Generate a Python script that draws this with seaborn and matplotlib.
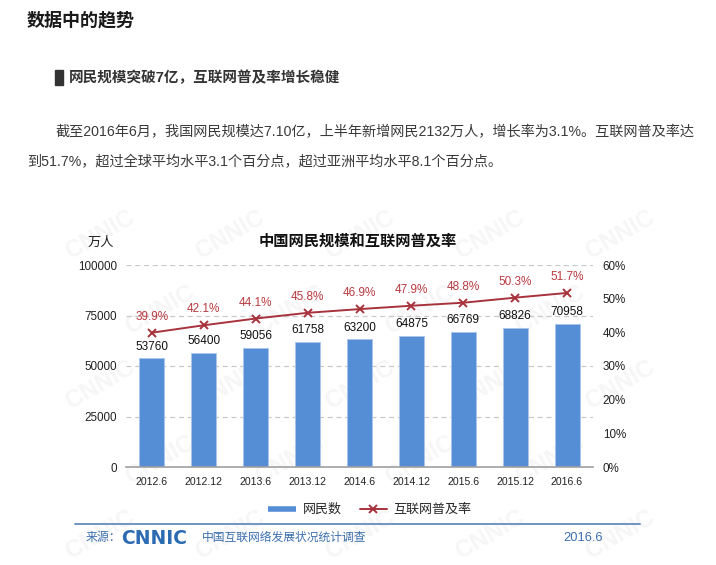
import seaborn as sns
import matplotlib.pyplot as plt
from matplotlib.lines import Line2D
from matplotlib.patches import Rectangle

# 数据
periods = ['2012.6', '2012.12', '2013.6', '2013.12', '2014.6',
           '2014.12', '2015.6', '2015.12', '2016.6']
netizens = [53760, 56400, 59056, 61758, 63200, 64875, 66769, 68826, 70958]
penetration = [39.9, 42.1, 44.1, 45.8, 46.9, 47.9, 48.8, 50.3, 51.7]
left_ticks = [0, 25000, 50000, 75000, 100000]
right_ticks = [0, 10, 20, 30, 40, 50, 60]

BLUE = '#558ED5'
RED_LINE = '#A8323C'
RED_TEXT = '#B83A40'
FOOT_BLUE = '#3D70AE'

sns.set_theme(style="white")
plt.rcParams['font.family'] = ['Liberation Sans', 'Noto Sans CJK SC', 'DejaVu Sans']

W, H = 716, 565
fig = plt.figure(figsize=(W / 100, H / 100), dpi=100, facecolor='white')


def fx(px):
    return px / W


def fy(py):
    return 1 - py / H


# 背景水印（很淡）
for row, yy in enumerate(range(235, 540, 75)):
    for xx in range(100 + (row % 2) * 60, 660, 130):
        fig.text(fx(xx), fy(yy), 'CNNIC', rotation=30, color='#f6f6f6',
                 fontsize=17, weight='bold', ha='center', va='center', zorder=-1)

# 文章文字
fig.text(fx(27), fy(21), '数据中的趋势', fontsize=13, weight='bold', color='#1a1a1a', va='center')
fig.patches.append(Rectangle((fx(55), fy(85)), fx(8), 15 / H, color='#333333',
                             transform=fig.transFigure, figure=fig))
fig.text(fx(69), fy(78), '网民规模突破7亿，互联网普及率增长稳健', fontsize=10.5,
         weight='bold', color='#333333', va='center')
fig.text(fx(55), fy(132), '截至2016年6月，我国网民规模达7.10亿，上半年新增网民2132万人，'
         '增长率为3.1%。互联网普及率达', fontsize=10.2, color='#3a3a3a', va='center')
fig.text(fx(27), fy(162), '到51.7%，超过全球平均水平3.1个百分点，超过亚洲平均水平8.1个百分点。',
         fontsize=10.2, color='#3a3a3a', va='center')

# 图表
ax = fig.add_axes([fx(126), fy(467), (593 - 126) / W, (467 - 265) / H])
ax.patch.set_facecolor('none')
sns.barplot(x=periods, y=netizens, color=BLUE, saturation=1, width=0.48,
            edgecolor='#a9c5ec', linewidth=0.6, ax=ax)
ax.set_ylim(0, 100000)
ax.set_yticks(left_ticks)
ax.set_yticklabels([str(t) for t in left_ticks])
ax.yaxis.grid(True, linestyle=(0, (4, 3)), color='#c9c9c9', linewidth=0.9)
ax.set_axisbelow(True)

ax2 = ax.twinx()
ax2.patch.set_facecolor('none')
sns.pointplot(x=periods, y=penetration, color=RED_LINE, markers='x', linestyles='-',
              markersize=6, markeredgewidth=1.4, linewidth=1.4, ax=ax2)
ax2.set_ylim(0, 60)
ax2.set_yticks(right_ticks)
ax2.set_yticklabels([f'{t}%' for t in right_ticks])
ax2.grid(False)

ax.set_xlim(-0.5, len(periods) - 0.5)
for a in (ax, ax2):
    a.set_xlabel('')
    a.set_ylabel('')
    for s in ('top', 'right', 'left', 'bottom'):
        a.spines[s].set_visible(False)
ax.spines['bottom'].set_visible(True)
ax.spines['bottom'].set_color('#a0a0a0')
ax.spines['bottom'].set_linewidth(1.2)

ax.tick_params(axis='x', length=0, pad=7, labelsize=7.6, labelcolor='#222222')
ax.set_xticks([i - 0.5 for i in range(len(periods) + 1)], minor=True)
ax.tick_params(axis='x', which='minor', direction='in', length=4, color='#a0a0a0', width=1)
ax.tick_params(axis='y', length=0, pad=6.5, labelsize=8.4, labelcolor='#222222')
ax2.tick_params(axis='y', length=0, pad=7, labelsize=8.4, labelcolor='#222222')

# 数据标签
for i, v in enumerate(netizens):
    ax.annotate(f'{v}', (i, v), xytext=(0, 8.5), textcoords='offset points',
                ha='center', va='center', fontsize=8.5, color='#111111')
for i, p in enumerate(penetration):
    ax2.annotate(f'{p}%', (i, p), xytext=(0, 11.5), textcoords='offset points',
                 ha='center', va='center', fontsize=8.5, color=RED_TEXT)

fig.text(fx(101), fy(243), '万人', fontsize=9.5, color='#222222', ha='center', va='center')
fig.text(fx(358), fy(241), '中国网民规模和互联网普及率', fontsize=11, weight='bold',
         color='#111111', ha='center', va='center')

# 图例
handles = [Line2D([], [], color=BLUE, lw=4, solid_capstyle='butt'),
           Line2D([], [], color=RED_LINE, lw=1.4, marker='x', markersize=6, markeredgewidth=1.4)]
fig.legend(handles, ['网民数', '互联网普及率'], ncol=2, loc='center',
           bbox_to_anchor=(fx(370), fy(510)), frameon=False, fontsize=9.4,
           handlelength=2.1, handletextpad=0.5, columnspacing=1.4)

# 底部来源
fig.add_artist(Line2D([fx(75), fx(640)], [fy(524), fy(524)], color='#6F95C2', lw=1.4))
fig.text(fx(86), fy(538), '来源：', fontsize=8.6, color=FOOT_BLUE, va='center')
fig.text(fx(121), fy(538), 'CNNIC', fontsize=13.5, weight='heavy', color='#2C6AB2',
         va='center', family='DejaVu Sans')
fig.text(fx(202), fy(538), '中国互联网络发展状况统计调查', fontsize=8.5, color=FOOT_BLUE, va='center')
fig.text(fx(563), fy(538), '2016.6', fontsize=9.3, color=FOOT_BLUE, va='center')

fig.savefig('out.png', dpi=100, facecolor='white')
